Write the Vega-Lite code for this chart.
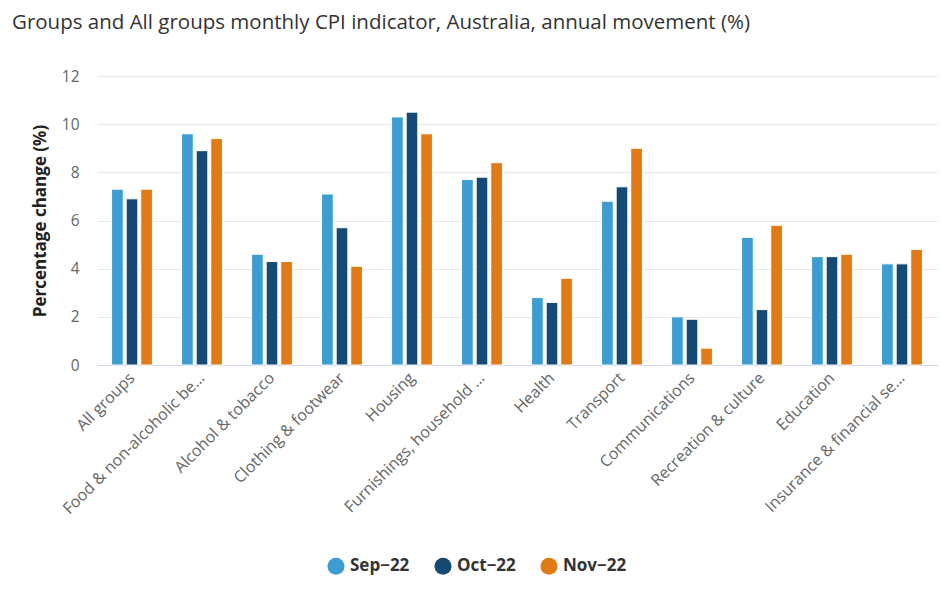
{
  "$schema": "https://vega.github.io/schema/vega-lite/v6.json",
  "width": 840,
  "height": 289,
  "autosize": {"type": "none"},
  "padding": {"left": 97, "top": 76, "right": 4, "bottom": 226},
  "background": "white",
  "title": {
    "text": "Groups and All groups monthly CPI indicator, Australia, annual movement (%)",
    "anchor": "start",
    "frame": "group",
    "dx": -85,
    "offset": 36,
    "font": "Open Sans",
    "fontSize": 20.5,
    "fontWeight": "normal",
    "color": "#333333"
  },
  "data": {
    "values": [
      {"group": "All groups", "month": "Sep−22", "value": 7.3},
      {"group": "All groups", "month": "Oct−22", "value": 6.9},
      {"group": "All groups", "month": "Nov−22", "value": 7.3},
      {"group": "Food & non-alcoholic beverages", "month": "Sep−22", "value": 9.6},
      {"group": "Food & non-alcoholic beverages", "month": "Oct−22", "value": 8.9},
      {"group": "Food & non-alcoholic beverages", "month": "Nov−22", "value": 9.4},
      {"group": "Alcohol & tobacco", "month": "Sep−22", "value": 4.6},
      {"group": "Alcohol & tobacco", "month": "Oct−22", "value": 4.3},
      {"group": "Alcohol & tobacco", "month": "Nov−22", "value": 4.3},
      {"group": "Clothing & footwear", "month": "Sep−22", "value": 7.1},
      {"group": "Clothing & footwear", "month": "Oct−22", "value": 5.7},
      {"group": "Clothing & footwear", "month": "Nov−22", "value": 4.1},
      {"group": "Housing", "month": "Sep−22", "value": 10.3},
      {"group": "Housing", "month": "Oct−22", "value": 10.5},
      {"group": "Housing", "month": "Nov−22", "value": 9.6},
      {"group": "Furnishings, household equipment & services", "month": "Sep−22", "value": 7.7},
      {"group": "Furnishings, household equipment & services", "month": "Oct−22", "value": 7.8},
      {"group": "Furnishings, household equipment & services", "month": "Nov−22", "value": 8.4},
      {"group": "Health", "month": "Sep−22", "value": 2.8},
      {"group": "Health", "month": "Oct−22", "value": 2.6},
      {"group": "Health", "month": "Nov−22", "value": 3.6},
      {"group": "Transport", "month": "Sep−22", "value": 6.8},
      {"group": "Transport", "month": "Oct−22", "value": 7.4},
      {"group": "Transport", "month": "Nov−22", "value": 9.0},
      {"group": "Communications", "month": "Sep−22", "value": 2.0},
      {"group": "Communications", "month": "Oct−22", "value": 1.9},
      {"group": "Communications", "month": "Nov−22", "value": 0.7},
      {"group": "Recreation & culture", "month": "Sep−22", "value": 5.3},
      {"group": "Recreation & culture", "month": "Oct−22", "value": 2.3},
      {"group": "Recreation & culture", "month": "Nov−22", "value": 5.8},
      {"group": "Education", "month": "Sep−22", "value": 4.5},
      {"group": "Education", "month": "Oct−22", "value": 4.5},
      {"group": "Education", "month": "Nov−22", "value": 4.6},
      {"group": "Insurance & financial services", "month": "Sep−22", "value": 4.2},
      {"group": "Insurance & financial services", "month": "Oct−22", "value": 4.2},
      {"group": "Insurance & financial services", "month": "Nov−22", "value": 4.8}
    ]
  },
  "mark": {"type": "bar", "stroke": "white", "strokeWidth": 1},
  "encoding": {
    "x": {
      "field": "group",
      "type": "nominal",
      "sort": null,
      "scale": {"paddingInner": 0, "paddingOuter": 0},
      "axis": {
        "title": null,
        "labelAngle": -45,
        "labelAlign": "right",
        "labelBaseline": "middle",
        "labelLimit": 195,
        "labelFont": "Open Sans",
        "labelFontSize": 16,
        "labelColor": "#666666",
        "labelPadding": 10,
        "ticks": false,
        "grid": false,
        "domainColor": "#ccd6eb",
        "domainWidth": 1
      }
    },
    "xOffset": {
      "field": "month",
      "type": "nominal",
      "sort": ["Sep−22", "Oct−22", "Nov−22"],
      "scale": {"paddingInner": 0.2, "paddingOuter": 1.1}
    },
    "y": {
      "field": "value",
      "type": "quantitative",
      "scale": {"domain": [0, 12], "nice": false},
      "axis": {
        "values": [0, 2, 4, 6, 8, 10, 12],
        "title": "Percentage change (%)",
        "titleFont": "Open Sans",
        "titleFontSize": 17,
        "titleFontWeight": "bold",
        "titleColor": "#222222",
        "titlePadding": 12,
        "labelFont": "Open Sans",
        "labelFontSize": 15.5,
        "labelColor": "#666666",
        "labelPadding": 18,
        "ticks": false,
        "domain": false,
        "grid": true,
        "gridColor": "#e6e6e6",
        "gridWidth": 1
      }
    },
    "color": {
      "field": "month",
      "type": "nominal",
      "sort": ["Sep−22", "Oct−22", "Nov−22"],
      "scale": {
        "domain": ["Sep−22", "Oct−22", "Nov−22"],
        "range": ["#3d9dd2", "#144a73", "#e07a14"]
      },
      "legend": {
        "orient": "none",
        "legendX": 230,
        "legendY": 481,
        "direction": "horizontal",
        "title": null,
        "symbolType": "circle",
        "symbolSize": 290,
        "symbolStrokeWidth": 0,
        "labelFont": "Open Sans",
        "labelFontSize": 17,
        "labelFontWeight": "bold",
        "labelColor": "#333333",
        "labelOffset": 5,
        "columnPadding": 24
      }
    }
  },
  "config": {
    "view": {"stroke": null},
    "font": "Open Sans"
  }
}
